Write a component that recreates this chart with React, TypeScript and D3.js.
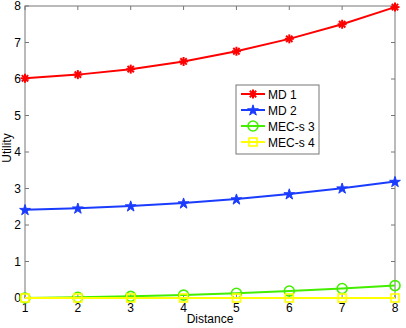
import React from "react";
import * as d3 from "d3";

const distances = [1, 2, 3, 4, 5, 6, 7, 8];
const md1 = [6.02, 6.12, 6.27, 6.48, 6.76, 7.1, 7.5, 7.97];
const md2 = [2.42, 2.46, 2.52, 2.6, 2.71, 2.85, 3.01, 3.19];
const mecs3 = [0.0, 0.02, 0.045, 0.08, 0.13, 0.19, 0.26, 0.34];
const mecs4 = [0, 0, 0, 0, 0, 0, 0, 0];
const seriesNames = ["MD 1", "MD 2", "MEC-s 3", "MEC-s 4"];
const yTicks = [0, 1, 2, 3, 4, 5, 6, 7, 8];

const W = 406;
const H = 328;
const m = { left: 25, right: 11, top: 6, bottom: 30 };

const colors = ["#ff0000", "#1a3cff", "#44ee00", "#ffff00"];
const shapes = ["asterisk", "star", "circle", "square"];

function Marker({ shape, x, y, color }: { shape: string; x: number; y: number; color: string }) {
  if (shape === "asterisk") {
    const r = 4.5;
    const lines = [0, 45, 90, 135].map((a) => {
      const rad = (a * Math.PI) / 180;
      return (
        <line key={a} x1={x - r * Math.cos(rad)} y1={y - r * Math.sin(rad)}
          x2={x + r * Math.cos(rad)} y2={y + r * Math.sin(rad)}
          stroke={color} strokeWidth={2} />
      );
    });
    return <g>{lines}</g>;
  }
  if (shape === "star") {
    const p = d3.symbol(d3.symbolStar, 36)();
    return <path d={p || ""} transform={`translate(${x},${y + 0.5})`} fill={color} stroke={color} strokeWidth={1} />;
  }
  if (shape === "circle") {
    return <circle cx={x} cy={y} r={5} fill="none" stroke={color} strokeWidth={1.6} />;
  }
  return <rect x={x - 4} y={y - 4} width={8} height={8} fill="none" stroke={color} strokeWidth={1.6} />;
}

export default function App() {
  const x = d3.scaleLinear().domain([1, 8]).range([m.left, W - m.right]);
  const y = d3.scaleLinear().domain([0, 8]).range([H - m.bottom, m.top]);
  const allSeries = [md1, md2, mecs3, mecs4];
  const line = d3.line<number>().x((_, i) => x(distances[i])).y((d) => y(d));
  const axisColor = "#777";
  const font = "'Liberation Sans', Arial, sans-serif";
  const tickLen = 4;

  const legX = 236, legY = 85, legW = 83, legH = 69;

  return (
    <svg width={W} height={H} style={{ position: "absolute", left: 0, top: 0, background: "#fff" }}
      fontFamily={font}>
      <rect x={0} y={0} width={W} height={H} fill="#fff" />
      <rect x={m.left} y={m.top} width={W - m.left - m.right} height={H - m.top - m.bottom}
        fill="#fff" stroke={axisColor} strokeWidth={1} />
      {distances.map((d) => (
        <g key={"xt" + d}>
          <line x1={x(d)} x2={x(d)} y1={y(0)} y2={y(0) - tickLen} stroke={axisColor} />
          <line x1={x(d)} x2={x(d)} y1={y(8)} y2={y(8) + tickLen} stroke={axisColor} />
          <text x={x(d)} y={y(0) + 14} textAnchor="middle" fontSize={12} fill="#000">{d}</text>
        </g>
      ))}
      {yTicks.map((t) => (
        <g key={"yt" + t}>
          <line x1={x(1)} x2={x(1) + tickLen} y1={y(t)} y2={y(t)} stroke={axisColor} />
          <line x1={x(8)} x2={x(8) - tickLen} y1={y(t)} y2={y(t)} stroke={axisColor} />
          <text x={x(1) - 4} y={y(t) + 4} textAnchor="end" fontSize={12} fill="#000">{t}</text>
        </g>
      ))}
      {allSeries.map((s, si) => (
        <g key={"s" + si}>
          <path d={line(s) || ""} fill="none" stroke={colors[si]} strokeWidth={2} />
          {s.map((v, i) => (
            <Marker key={i} shape={shapes[si]} x={x(distances[i])} y={y(v)} color={colors[si]} />
          ))}
        </g>
      ))}
      <text x={210} y={323} textAnchor="middle" fontSize={12} fill="#000">Distance</text>
      <text transform={`translate(10.5,148) rotate(-90)`} textAnchor="middle"
        fontSize={12} fill="#000">Utility</text>
      <rect x={legX} y={legY} width={legW} height={legH} fill="#fff" stroke={axisColor} />
      {seriesNames.map((n, i) => {
        const ly = legY + 9 + i * 16;
        return (
          <g key={n}>
            <line x1={legX + 5} x2={legX + 29} y1={ly} y2={ly} stroke={colors[i]} strokeWidth={2} />
            <Marker shape={shapes[i]} x={legX + 17} y={ly} color={colors[i]} />
            <text x={legX + 32} y={ly + 4.5} fontSize={12} fill="#000">{n}</text>
          </g>
        );
      })}
    </svg>
  );
}
